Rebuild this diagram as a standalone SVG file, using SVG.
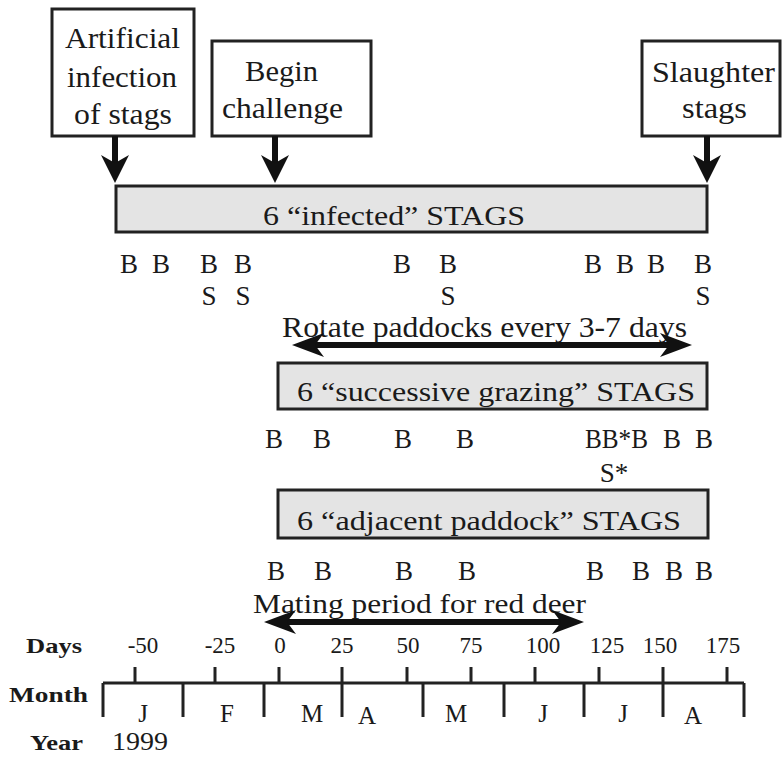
<svg xmlns="http://www.w3.org/2000/svg" width="782" height="758" viewBox="0 0 782 758">
<defs>
<style>
.t{font-family:"Liberation Serif","Times New Roman",serif;fill:#1a1a1a}
.lbl{font-size:29px}
.bar{font-size:28px}
.bs{font-size:27px;text-anchor:middle}
.ax{font-size:23px;text-anchor:middle}
.mo{font-size:25px;text-anchor:middle}
.hd{font-size:22px;font-weight:bold}
.box{fill:#ffffff;stroke:#222;stroke-width:3}
.gbox{fill:#e4e4e4;stroke:#222;stroke-width:3}
.sh{stroke:#111;stroke-width:6;fill:none}
.axl{stroke:#222;stroke-width:3;fill:none}
</style>
<marker id="av" viewBox="0 0 28 28" refX="10" refY="14" markerWidth="28" markerHeight="28" markerUnits="userSpaceOnUse" orient="auto">
<path d="M0,0 L28,14 L0,28 L8,14 Z" fill="#111"/>
</marker>
<marker id="ah" viewBox="0 0 32 24" refX="12" refY="12" markerWidth="32" markerHeight="24" markerUnits="userSpaceOnUse" orient="auto-start-reverse">
<path d="M0,0 L32,12 L0,24 L9,12 Z" fill="#111"/>
</marker>
</defs>
<rect width="782" height="758" fill="#ffffff"/>

<g id="box-infection">
<rect class="box" x="52" y="9" width="142" height="127"/>
<text class="t lbl" x="65" y="48" textLength="115" lengthAdjust="spacingAndGlyphs">Artificial</text>
<text class="t lbl" x="67" y="87" textLength="110" lengthAdjust="spacingAndGlyphs">infection</text>
<text class="t lbl" x="74" y="124" textLength="98" lengthAdjust="spacingAndGlyphs">of stags</text>
</g>
<g id="box-challenge">
<rect class="box" x="212" y="41" width="159" height="95"/>
<text class="t lbl" x="245" y="81" textLength="73" lengthAdjust="spacingAndGlyphs">Begin</text>
<text class="t lbl" x="222" y="118" textLength="121" lengthAdjust="spacingAndGlyphs">challenge</text>
</g>
<g id="box-slaughter">
<rect class="box" x="642" y="41" width="138" height="95"/>
<text class="t lbl" x="652" y="82" textLength="123" lengthAdjust="spacingAndGlyphs">Slaughter</text>
<text class="t lbl" x="682" y="118" textLength="65" lengthAdjust="spacingAndGlyphs">stags</text>
</g>

<g id="bar-infected">
<rect class="gbox" x="116" y="186" width="591" height="46"/>
<text class="t bar" x="263" y="225" textLength="262" lengthAdjust="spacingAndGlyphs">6 “infected” STAGS</text>
</g>
<g id="samples-infected" class="t bs">
<text x="129" y="273">B</text><text x="161" y="273">B</text><text x="209" y="273">B</text><text x="243" y="273">B</text>
<text x="402" y="273">B</text><text x="448" y="273">B</text><text x="593" y="273">B</text><text x="625" y="273">B</text>
<text x="656" y="273">B</text><text x="703" y="273">B</text>
<text x="209" y="305">S</text><text x="243" y="305">S</text><text x="448" y="305">S</text><text x="703" y="305">S</text>
</g>

<g id="label-rotate">
<text class="t" style="font-size:29px" x="282" y="337" textLength="405" lengthAdjust="spacingAndGlyphs">Rotate paddocks every 3-7 days</text>
</g>

<g id="bar-successive">
<rect class="gbox" x="278" y="363" width="429" height="46"/>
<text class="t bar" x="297" y="401" textLength="398" lengthAdjust="spacingAndGlyphs">6 “successive grazing” STAGS</text>
</g>
<g id="samples-successive" class="t bs">
<text x="274" y="448">B</text><text x="322" y="448">B</text><text x="403" y="448">B</text><text x="465" y="448">B</text>
<text x="585" y="448" style="text-anchor:start" textLength="63" lengthAdjust="spacingAndGlyphs">BB*B</text>
<text x="672" y="448">B</text><text x="704" y="448">B</text>
<text x="614" y="482">S*</text>
</g>

<g id="bar-adjacent">
<rect class="gbox" x="278" y="490" width="430" height="48"/>
<text class="t bar" x="297" y="530" textLength="384" lengthAdjust="spacingAndGlyphs">6 “adjacent paddock” STAGS</text>
</g>
<g id="samples-adjacent" class="t bs">
<text x="276" y="580">B</text><text x="323" y="580">B</text><text x="404" y="580">B</text><text x="467" y="580">B</text>
<text x="595" y="580">B</text><text x="641" y="580">B</text><text x="674" y="580">B</text><text x="704" y="580">B</text>
</g>

<g id="label-mating">
<text class="t" style="font-size:28px" x="253" y="613" textLength="333" lengthAdjust="spacingAndGlyphs">Mating period for red deer</text>
</g>

<g id="connectors">
<line class="sh" x1="115" y1="136" x2="115" y2="165" marker-end="url(#av)"/>
<line class="sh" x1="275" y1="136" x2="275" y2="165" marker-end="url(#av)"/>
<line class="sh" x1="707" y1="136" x2="707" y2="165" marker-end="url(#av)"/>
<line class="sh" x1="312" y1="345" x2="672" y2="345" marker-start="url(#ah)" marker-end="url(#ah)"/>
<line class="sh" x1="284" y1="622" x2="564" y2="622" marker-start="url(#ah)" marker-end="url(#ah)"/>
</g>

<g id="timeline">
<text class="t hd" x="26" y="653" textLength="56" lengthAdjust="spacingAndGlyphs">Days</text>
<text class="t hd" x="9" y="702" textLength="79" lengthAdjust="spacingAndGlyphs">Month</text>
<text class="t hd" x="30" y="750" textLength="53" lengthAdjust="spacingAndGlyphs">Year</text>
<text class="t" style="font-size:25px" x="112" y="750" textLength="56" lengthAdjust="spacingAndGlyphs">1999</text>
<g class="t ax">
<text x="143" y="653">-50</text><text x="220" y="653">-25</text><text x="280" y="653">0</text><text x="342" y="653">25</text>
<text x="408" y="653">50</text><text x="471" y="653">75</text><text x="543" y="653">100</text><text x="607" y="653">125</text>
<text x="660" y="653">150</text><text x="723" y="653">175</text>
</g>
<path class="axl" d="M103,683 H744 M135,667 V683 M215,667 V683 M279,667 V683 M342,667 V717 M407,667 V683 M471,667 V683 M535,667 V683 M599,667 V683 M663,667 V717 M727,667 V683 M103,683 V717 M183,683 V717 M264,683 V717 M423,683 V717 M504,683 V717 M584,683 V717 M744,683 V717"/>
<g class="t mo">
<text x="143" y="722">J</text><text x="227" y="722">F</text><text x="312" y="722">M</text><text x="367" y="724">A</text>
<text x="456" y="722">M</text><text x="543" y="722">J</text><text x="623" y="722">J</text><text x="693" y="724">A</text>
</g>
</g>
</svg>
